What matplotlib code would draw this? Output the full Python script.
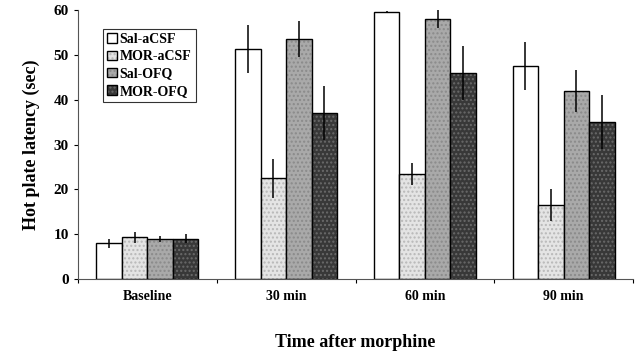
import numpy as np
import matplotlib
matplotlib.use("Agg")
import matplotlib.pyplot as plt

plt.rcParams['font.family'] = ['Liberation Serif', 'DejaVu Serif']
plt.rcParams['font.weight'] = 'bold'

categories = ["Baseline", "30 min", "60 min", "90 min"]
groups = ["Sal-aCSF", "MOR-aCSF", "Sal-OFQ", "MOR-OFQ"]
sal_acsf = [8.0, 51.3, 59.6, 47.5]
sal_acsf_err = [1.0, 5.3, 0.3, 5.3]
mor_acsf = [9.3, 22.5, 23.5, 16.5]
mor_acsf_err = [1.2, 4.3, 2.5, 3.5]
sal_ofq = [9.0, 53.5, 58.0, 42.0]
sal_ofq_err = [0.7, 4.0, 2.0, 4.7]
mor_ofq = [9.0, 37.0, 46.0, 35.0]
mor_ofq_err = [1.0, 6.0, 6.0, 6.0]

values = [sal_acsf, mor_acsf, sal_ofq, mor_ofq]
errors = [sal_acsf_err, mor_acsf_err, sal_ofq_err, mor_ofq_err]
colors = ["white", "#e4e4e4", "#a9a9a9", "#383838"]
hatches = [None, "....", "....", "...."]
hatch_cols = [None, "#b8b8b8", "#8a8a8a", "#6a6a6a"]

fig = plt.figure(figsize=(6.4, 3.62), dpi=100)
ax = fig.add_axes([0.122, 0.229, 0.867, 0.743])

x = np.arange(len(categories))
w = 0.184
for i in range(len(groups)):
    pos = x + (i - 1.5) * w
    bars = ax.bar(pos, values[i], width=w, color=colors[i], edgecolor="black",
                  linewidth=1.0, label=groups[i], zorder=2)
    if hatches[i]:
        for b in bars:
            b.set_hatch(hatches[i])
            b._hatch_color = matplotlib.colors.to_rgba(hatch_cols[i])
    ax.errorbar(pos, values[i], yerr=errors[i], fmt="none", ecolor="black",
                elinewidth=1.1, capsize=0, zorder=3)

ax.set_xlim(-0.5, len(categories) - 0.5)
ax.set_ylim(0, 60)
ax.set_yticks(range(0, 61, 10))
ax.set_xticks(x)
ax.set_xticklabels(categories, fontsize=10, fontweight="bold")
ax.set_xticks(np.arange(-0.5, len(categories), 1.0), minor=True)
ax.tick_params(axis="x", which="major", length=0, pad=8)
ax.tick_params(axis="x", which="minor", length=3, width=0.8)
ax.tick_params(axis="y", labelsize=11, length=3, width=0.8)
for lab in ax.get_yticklabels():
    lab.set_fontweight("bold")
ax.spines["top"].set_visible(False)
ax.spines["right"].set_visible(False)
ax.spines["left"].set_color("#555555")
ax.spines["bottom"].set_color("#555555")

ax.set_ylabel("Hot plate latency (sec)", fontsize=13, fontweight="bold", labelpad=10)
ax.set_xlabel("Time after morphine", fontsize=13, fontweight="bold", labelpad=22)

leg = ax.legend(loc="upper left", bbox_to_anchor=(0.045, 0.93), fontsize=10,
                frameon=True, fancybox=False, edgecolor="black",
                handlelength=0.7, handleheight=0.7, handletextpad=0.2,
                borderpad=0.3, labelspacing=0.3, borderaxespad=0)
leg.get_frame().set_linewidth(0.8)

fig.savefig("out.png", dpi=100)
